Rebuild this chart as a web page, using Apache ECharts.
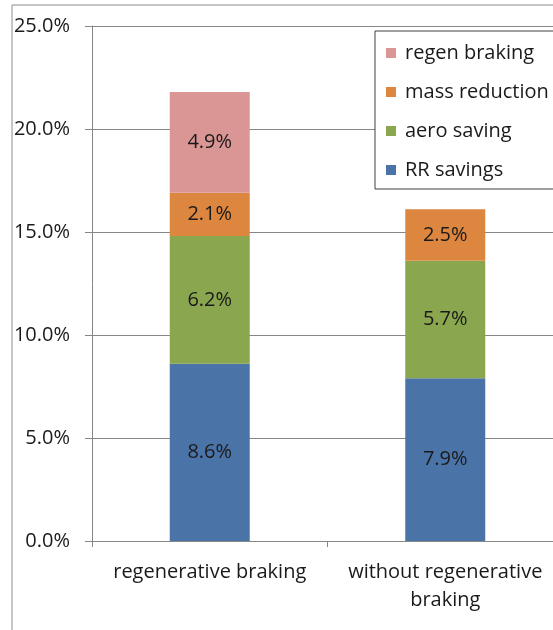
<!DOCTYPE html>
<html>
<head>
<meta charset="utf-8">
<script src="https://cdn.jsdelivr.net/npm/echarts@6/dist/echarts.min.js"></script>
<style>
  html, body { margin: 0; padding: 0; background: #fff; overflow: hidden; }
  #chart { width: 575px; height: 630px; }
</style>
</head>
<body>
<div id="chart"></div>
<script>
// categories and stacked values (percent)
var categories = ['regenerative braking', 'without regenerative\nbraking'];
var rrSavings = [8.6, 7.9];
var aeroSaving = [6.2, 5.7];
var massReduction = [2.1, 2.5];
var regenBraking = [4.9, null];
var yTicks = [0, 5, 10, 15, 20, 25];

var fontName = 'Open Sans';
var myChart = echarts.init(document.getElementById('chart'));

function pctLabel(p) {
  return p.value == null ? '' : p.value.toFixed(1) + '%';
}

function barSeries(name, data, color) {
  return {
    name: name,
    type: 'bar',
    stack: 'total',
    barWidth: 80,
    data: data,
    itemStyle: { color: color },
    label: {
      show: true,
      position: 'inside',
      formatter: pctLabel,
      color: '#1a1a1a',
      fontFamily: fontName,
      fontSize: 20
    }
  };
}

var option = {
  animation: false,
  backgroundColor: '#fff',
  graphic: [{
    type: 'rect',
    shape: { x: 12, y: 5, width: 700, height: 800 },
    style: { fill: 'none', stroke: '#8c8c8c', lineWidth: 1 },
    silent: true
  }],
  grid: { left: 92, top: 26, right: 12, bottom: 89 },
  legend: {
    orient: 'vertical',
    left: 375,
    top: 31,
    data: ['regen braking', 'mass reduction', 'aero saving', 'RR savings'],
    icon: 'rect',
    itemWidth: 10,
    itemHeight: 10,
    itemGap: 17,
    padding: [11, 40, 8, 11],
    borderColor: '#404040',
    borderWidth: 1,
    backgroundColor: '#fff',
    textStyle: {
      fontFamily: fontName,
      fontSize: 20,
      lineHeight: 22,
      color: '#1a1a1a',
      padding: [0, 0, 0, 4]
    }
  },
  xAxis: {
    type: 'category',
    data: categories,
    axisLine: { lineStyle: { color: '#868686' } },
    axisTick: { show: true, length: 6, lineStyle: { color: '#868686' } },
    axisLabel: {
      color: '#1a1a1a',
      fontFamily: fontName,
      fontSize: 20,
      lineHeight: 28,
      margin: 17,
      interval: 0
    }
  },
  yAxis: {
    type: 'value',
    min: 0,
    max: 25,
    interval: 5,
    axisLine: { show: true, lineStyle: { color: '#868686' } },
    axisTick: { show: true, length: 7, lineStyle: { color: '#868686' } },
    splitLine: { lineStyle: { color: '#868686' } },
    axisLabel: {
      color: '#1a1a1a',
      fontFamily: fontName,
      fontSize: 20,
      margin: 22,
      formatter: function (v) { return yTicks.indexOf(v) >= 0 ? v.toFixed(1) + '%' : ''; }
    }
  },
  series: [
    barSeries('RR savings', rrSavings, '#4a74a8'),
    barSeries('aero saving', aeroSaving, '#8aa64f'),
    barSeries('mass reduction', massReduction, '#dc8640'),
    barSeries('regen braking', regenBraking, '#d99694')
  ]
};

myChart.setOption(option);
</script>
</body>
</html>
